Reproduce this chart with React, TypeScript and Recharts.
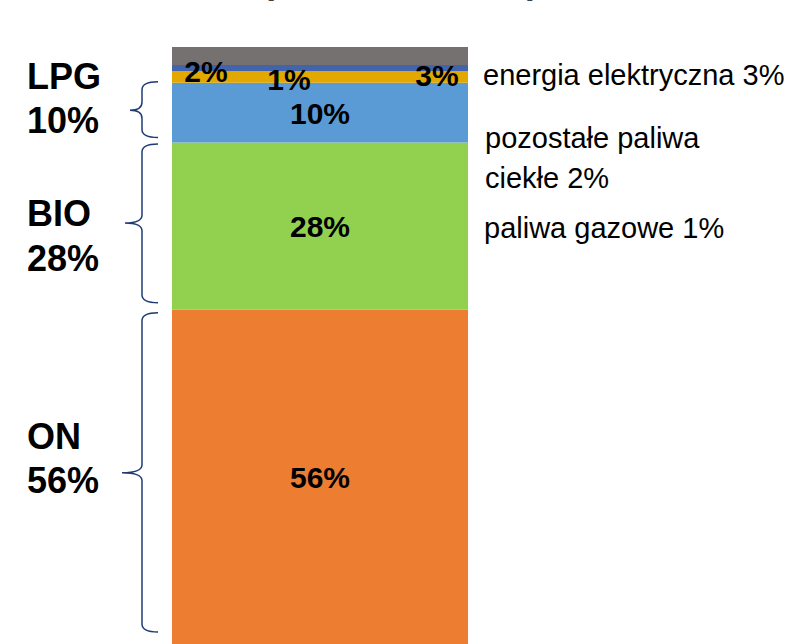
import { BarChart, Bar, XAxis, YAxis, LabelList } from "recharts";

// values (percent of total)
const categories = ["2019"];
const onValues = [56];
const bioValues = [28];
const lpgValues = [10];
const ciekleValues = [2];
const gazoweValues = [1];
const energiaValues = [3];

const data = categories.map((name, i) => ({
  name,
  on: onValues[i],
  bio: bioValues[i],
  lpg: lpgValues[i],
  ciekle: ciekleValues[i],
  gazowe: gazoweValues[i],
  energia: energiaValues[i],
}));

const FONT = "'Liberation Sans', Arial, sans-serif";
const BRACE = "#1f3b73";

const num = (v: any) => Number(v ?? 0);

// brace + big bold group name on the left of a segment
const groupLabel =
  (title: string, opts: { top: number; bottom: number; tip: number; tipX: number; line1: number; line2: number }) =>
  (props: any) => {
    const vb = props.viewBox || props;
    const x = num(vb.x);
    const y = num(vb.y);
    const h = num(vb.height);
    const y1 = y + opts.top;
    const y2 = y + h - opts.bottom;
    const ym = y + h / 2 + opts.tip;
    const xe = x - 14;
    const xs = x - 30;
    const xt = x - opts.tipX;
    const r = 8;
    const d = `M ${xe} ${y1} Q ${xs} ${y1} ${xs} ${y1 + r} L ${xs} ${ym - r} Q ${xs} ${ym} ${xt} ${ym} Q ${xs} ${ym} ${xs} ${ym + r} L ${xs} ${y2 - r} Q ${xs} ${y2} ${xe} ${y2}`;
    return (
      <g>
        <path d={d} fill="none" stroke={BRACE} strokeWidth={1.5} />
        <text x={27} y={ym + opts.line1} fontFamily={FONT} fontWeight="bold" fontSize={36} fill="#000">
          {title}
        </text>
        <text x={27} y={ym + opts.line2} fontFamily={FONT} fontWeight="bold" fontSize={36} fill="#000">
          {`${props.value}%`}
        </text>
      </g>
    );
  };

// bold percentage drawn on the bar
const innerLabel = (dx: number | null, dy: number | null) => (props: any) => {
  const vb = props.viewBox || props;
  const x = num(vb.x);
  const y = num(vb.y);
  const w = num(vb.width);
  const h = num(vb.height);
  const cx = dx === null ? x + w / 2 : x + dx;
  const cy = dy === null ? y + h / 2 + 11 : y + dy;
  return (
    <text x={cx} y={cy} textAnchor="middle" fontFamily={FONT} fontWeight="bold" fontSize={30} fill="#000">
      {`${props.value}%`}
    </text>
  );
};

// plain text on the right of the bar
const sideLabel = (lines: string[], dy: number, gap: number, dx: number) => (props: any) => {
  const vb = props.viewBox || props;
  const x = num(vb.x) + num(vb.width) + dx;
  const y = num(vb.y) + dy;
  return (
    <g>
      {lines.map((t, i) => (
        <text key={i} x={x} y={y + i * gap} fontFamily={FONT} fontSize={29} fill="#000">
          {t}
        </text>
      ))}
    </g>
  );
};

export default function App() {
  return (
    <div style={{ position: "absolute", left: 0, top: 0, width: 792, height: 644, overflow: "hidden", background: "#fff" }}>
      <BarChart
        width={792}
        height={644}
        data={data}
        margin={{ top: 47, right: 324, bottom: 0, left: 172 }}
        barCategoryGap={0}
      >
        <XAxis dataKey="name" hide />
        <YAxis hide domain={[0, 100]} />
        <Bar dataKey="on" stackId="a" fill="#ED7D31" isAnimationActive={false}>
          <LabelList dataKey="on" content={innerLabel(null, null)} />
          <LabelList
            dataKey="on"
            content={groupLabel("ON", { top: 3, bottom: 12, tip: -4, tipX: 50, line1: -24, line2: 20 })}
          />
        </Bar>
        <Bar dataKey="bio" stackId="a" fill="#92D050" isAnimationActive={false}>
          <LabelList dataKey="bio" content={innerLabel(null, null)} />
          <LabelList
            dataKey="bio"
            content={groupLabel("BIO", { top: 1.5, bottom: 7, tip: -3, tipX: 47, line1: 3, line2: 48 })}
          />
        </Bar>
        <Bar dataKey="lpg" stackId="a" fill="#5B9BD5" isAnimationActive={false}>
          <LabelList dataKey="lpg" content={innerLabel(null, null)} />
          <LabelList
            dataKey="lpg"
            content={groupLabel("LPG", { top: -1, bottom: 5, tip: -2.5, tipX: 42, line1: -21, line2: 23 })}
          />
        </Bar>
        <Bar dataKey="ciekle" stackId="a" fill="#E3A800" isAnimationActive={false}>
          <LabelList dataKey="ciekle" content={innerLabel(34, 11)} />
          <LabelList dataKey="ciekle" content={sideLabel(["pozostałe paliwa", "ciekłe 2%"], 77, 40, 17)} />
        </Bar>
        <Bar dataKey="gazowe" stackId="a" fill="#4164AC" isAnimationActive={false}>
          <LabelList dataKey="gazowe" content={innerLabel(117, 25)} />
          <LabelList dataKey="gazowe" content={sideLabel(["paliwa gazowe 1%"], 173, 0, 16)} />
        </Bar>
        <Bar dataKey="energia" stackId="a" fill="#767171" isAnimationActive={false}>
          <LabelList dataKey="energia" content={innerLabel(265, 39)} />
          <LabelList dataKey="energia" content={sideLabel(["energia elektryczna 3%"], 38, 0, 15)} />
        </Bar>
        {/* bottom of the cropped title */}
        <text x={262} y={-7} fontFamily={FONT} fontWeight="bold" fontSize={36} fill="#404040">
          (
        </text>
        <text x={527} y={-7} fontFamily={FONT} fontWeight="bold" fontSize={36} fill="#404040">
          )
        </text>
      </BarChart>
    </div>
  );
}
